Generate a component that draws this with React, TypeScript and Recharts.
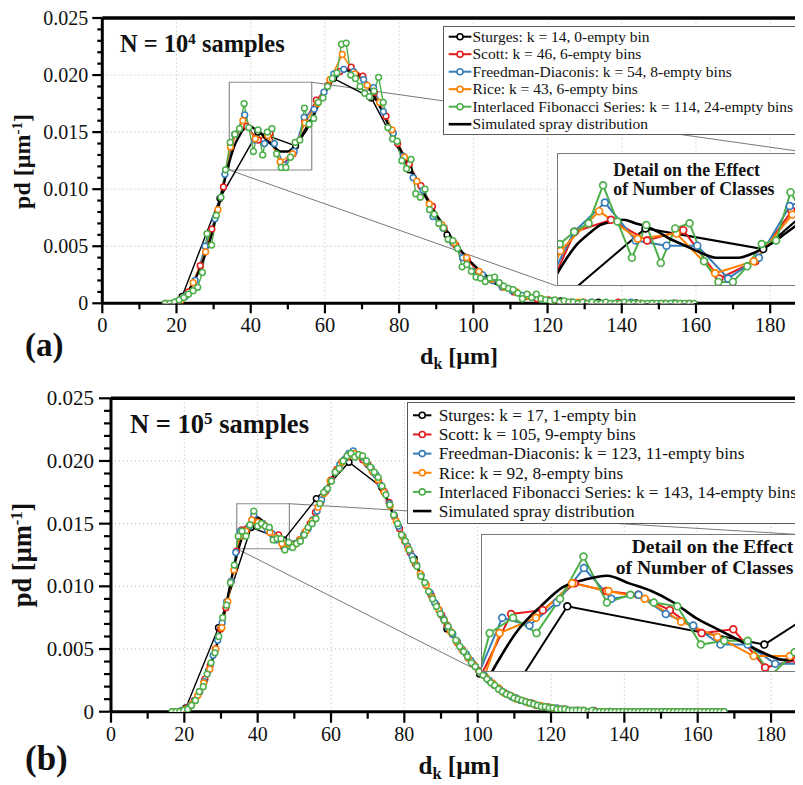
import React from "react";
import { LineChart, Line, XAxis, YAxis, ReferenceLine, ReferenceArea } from "recharts";

const FONT = "'Liberation Serif', 'Times New Roman', serif";
type P = [number, number][];
type Pt = { x: number; y: number };

const SERIES_COLORS = ["#000000", "#e41a1c", "#377eb8", "#ff7f00", "#4daf4a"];
const SIM_COLOR = "#000000";

const X_TICKS = [0, 10, 20, 30, 40, 50, 60, 70, 80, 90, 100, 110, 120, 130, 140, 150, 160, 170, 180];
const Y_TICKS = [0, 0.001, 0.002, 0.003, 0.004, 0.005, 0.006, 0.007, 0.008, 0.009, 0.01, 0.011, 0.012, 0.013, 0.014, 0.015, 0.016, 0.017, 0.018, 0.019, 0.02, 0.021, 0.022, 0.023, 0.024, 0.025];
const X_GRID = [20, 40, 60, 80, 100, 120, 140, 160, 180];
const Y_GRID = [0.005, 0.01, 0.015, 0.02];

const A_LABELS = [
  "Sturges: k = 14, 0-empty bin",
  "Scott: k = 46, 6-empty bins",
  "Freedman-Diaconis: k = 54, 8-empty bins",
  "Rice: k = 43, 6-empty bins",
  "Interlaced Fibonacci Series: k = 114, 24-empty bins",
  "Simulated spray distribution",
];
const B_LABELS = [
  "Sturges: k = 17, 1-empty bin",
  "Scott: k = 105, 9-empty bins",
  "Freedman-Diaconis: k = 123, 11-empty bins",
  "Rice: k = 92, 8-empty bins",
  "Interlaced Fibonacci Series: k = 143, 14-empty bins",
  "Simulated spray distribution",
];

// Simulated spray distribution (same in both panels)
const SIM: P = [[16,0],[18,0],[20,0.0001],[21,0.0003],[22,0.0006],[23,0.001],[24,0.0015],[25,0.0021],[26,0.0028],[27,0.0036],[28,0.0045],[29,0.0055],
[30,0.0067],[31,0.008],[32,0.0094],[33,0.0108],[34,0.0121],[35,0.0132],[36,0.0141],[37,0.0147],[38,0.0152],[39,0.0154],
[40,0.0155],[41,0.0153],[42,0.0151],[43,0.0148],[44,0.0144],[45,0.0141],[46,0.0138],[47,0.0135],[48,0.0133],[49,0.0133],
[50,0.0133],[51,0.0135],[52,0.0138],[53,0.0142],[54,0.0147],[55,0.0152],[56,0.0158],[57,0.0165],[58,0.0172],[59,0.0179],
[60,0.0185],[61,0.019],[62,0.0195],[63,0.0198],[64,0.0201],[65,0.0203],[66,0.0204],[67,0.0204],[68,0.0203],[69,0.02],
[70,0.0197],[71,0.0193],[72,0.0188],[73,0.0183],[74,0.0177],[75,0.0171],[76,0.0164],[77,0.0157],[78,0.015],[79,0.0143],
[80,0.0137],[82,0.0124],[84,0.0112],[86,0.01],[88,0.0089],[90,0.0078],[92,0.0068],[94,0.0058],[96,0.0049],[98,0.0041],
[100,0.0034],[102,0.0028],[104,0.0023],[106,0.0018],[108,0.0014],[110,0.0011],[113,0.0008],[116,0.0005],[120,0.0003],
[125,0.0001],[130,0.00004],[135,0.00001],[140,0]];

// ---------- Panel (a): N = 10^4 ----------
const A_STURGES: P = [[21.5,0.0006],[31.7,0.0092],[41.9,0.015],[52.1,0.0138],[62.3,0.0197],[72.5,0.018],[82.7,0.0117],[92.9,0.006],[103.1,0.0021],[113.3,0.0006],[123.5,0.0002],[133.7,0.0001],[143.9,0.00003],[154.1,0.00001]];

const A_SCOTT: P = [[17,0],[20.13,0.0001],[23.26,0.001],[26.39,0.0033],[29.52,0.0065],[32.65,0.0102],[35.78,0.0148],[38.91,0.0155],[42.04,0.0143],[45.17,0.0149],[48.3,0.0121],[51.43,0.0131],[54.56,0.016],[57.69,0.0178],[60.82,0.0191],[63.95,0.0203],[67.08,0.0207],[70.21,0.0199],[73.34,0.0185],[76.47,0.0164],[79.6,0.014],[82.73,0.0122],[85.86,0.0103],[88.99,0.0085],[92.12,0.0066],[95.25,0.0051],[98.38,0.0038],[101.51,0.0027],[104.64,0.0021],[107.77,0.0015],[110.9,0.001],[114.03,0.0006],[117.16,0.0004],[120.29,0.0003],[123.42,0.0001],[126.55,0.0001],[129.68,0.0001],[132.81,0],[135.94,0],[139.07,0.0001],[142.2,0],[145.33,0],[148.46,0],[151.59,0],[154.72,0],[157.85,0]];

const A_FD: P = [[17.02,0],[19.69,0.0001],[22.36,0.0006],[25.03,0.002],[27.7,0.005],[30.37,0.0074],[33.04,0.0113],[35.71,0.0148],[38.38,0.0165],[41.05,0.0143],[43.72,0.014],[46.39,0.014],[49.06,0.0121],[51.73,0.0133],[54.4,0.0163],[57.07,0.017],[59.74,0.0185],[62.41,0.0201],[65.08,0.0205],[67.75,0.0203],[70.42,0.0196],[73.09,0.0189],[75.76,0.0168],[78.43,0.0149],[81.1,0.0129],[83.77,0.011],[86.44,0.0099],[89.11,0.0076],[91.78,0.0066],[94.45,0.0053],[97.12,0.004],[99.79,0.0028],[102.46,0.0025],[105.13,0.002],[107.8,0.0014],[110.47,0.0011],[113.14,0.0007],[115.81,0.0005],[118.48,0.0003],[121.15,0.0002],[123.82,0.0001],[126.49,0.0001],[129.16,0],[131.83,0.0001],[134.5,0],[137.17,0],[139.84,0],[142.51,0.0001],[145.18,0],[147.85,0],[150.52,0],[153.19,0],[155.86,0],[158.53,0]];

const A_RICE: P = [[17.78,0],[21.13,0.0002],[24.48,0.0018],[27.83,0.0045],[31.18,0.0082],[34.53,0.0137],[37.88,0.016],[41.23,0.0144],[44.58,0.0147],[47.93,0.0124],[51.28,0.0131],[54.63,0.0158],[57.98,0.0175],[61.33,0.0196],[64.68,0.0218],[68.03,0.0201],[71.38,0.0191],[74.73,0.0176],[78.08,0.0152],[81.43,0.0128],[84.78,0.0107],[88.13,0.0087],[91.48,0.0069],[94.83,0.0053],[98.18,0.004],[101.53,0.0028],[104.88,0.0021],[108.23,0.0014],[111.58,0.001],[114.93,0.0006],[118.28,0.0004],[121.63,0.0002],[124.98,0.0001],[128.33,0.0001],[131.68,0],[135.03,0],[138.38,0],[141.73,0],[145.08,0],[148.43,0],[151.78,0],[155.13,0],[158.48,0]];

const A_IFS: P = [[16.97,0],[18.22,0],[19.47,0.0001],[20.72,0.0003],[21.97,0.0005],[23.22,0.0008],[24.47,0.0011],[25.72,0.0014],[26.97,0.0027],[28.22,0.0061],
[29.47,0.0051],[30.72,0.0077],[31.97,0.0093],[33.22,0.0117],[34.47,0.0141],[35.72,0.0148],[36.97,0.0153],[38.22,0.0175],[39.47,0.0154],[40.72,0.0133],
[41.97,0.0152],[43.22,0.013],[44.47,0.015],[45.72,0.0153],[46.97,0.0131],[48.22,0.0119],[49.47,0.0119],[50.72,0.0128],[51.97,0.0141],[53.22,0.0143],
[54.47,0.0171],[55.72,0.0157],[56.97,0.0162],[58.22,0.0176],[59.47,0.018],[60.72,0.019],[61.97,0.0197],[63.22,0.0202],[64.47,0.0227],[65.72,0.0228],
[66.97,0.02],[68.22,0.0197],[69.47,0.019],[70.72,0.0184],[71.97,0.0181],[73.22,0.0186],[74.47,0.0198],[75.72,0.0176],[76.97,0.0154],[78.22,0.0144],
[79.47,0.0142],[80.72,0.0125],[81.97,0.0118],[83.22,0.0126],[84.47,0.0096],[85.72,0.0093],[86.97,0.01],[88.22,0.0082],[89.47,0.0078],[90.72,0.007],
[91.97,0.0066],[93.22,0.0056],[94.47,0.0055],[95.72,0.0048],[96.97,0.0032],[98.22,0.0034],[99.47,0.0028],[100.72,0.0023],[101.97,0.0022],[103.22,0.0019],
[104.47,0.0022],[105.72,0.0023],[106.97,0.0018],[108.22,0.0015],[109.47,0.0013],[110.72,0.0012],[111.97,0.0009],[113.22,0.0004],[114.47,0.0008],[115.72,0.0005],
[116.97,0.0008],[118.22,0.0004],[119.47,0.0003],[120.72,0.0002],[121.97,0.0003],[123.22,0.0001],[124.47,0.0002],[125.72,0.0001],[126.97,0.0001],[128.22,0],
[129.47,0.0001],[130.72,0],[131.97,0.0001],[133.22,0],[134.47,0],[135.72,0.0001],[136.97,0],[138.22,0],[139.47,0],[140.72,0.0001],
[141.97,0],[143.22,0],[144.47,0],[145.72,0],[146.97,0],[148.22,0],[149.47,0],[150.72,0],[151.97,0],[153.22,0],
[154.47,0],[155.72,0],[156.97,0],[158.22,0],[159.47,0]];

// ---------- Panel (b): N = 10^5 ----------
const B_STURGES: P = [[20.4,0.0003],[29.3,0.0067],[38.2,0.0147],[47.1,0.0137],[56,0.017],[64.9,0.0199],[73.8,0.0179],[82.7,0.0122],[91.6,0.0066],[100.5,0.003],[109.4,0.0012],[118.3,0.0004],[127.2,0.0001],[136.1,0.00003],[145,0.00001],[153.9,0],[162.8,0]];

const B_SCOTT: P = [[17,0],[18.44,0],[19.87,0.0001],[21.31,0.0004],[22.74,0.0009],[24.18,0.0016],[25.61,0.0026],[27.05,0.0037],[28.48,0.005],[29.92,0.0066],
[31.35,0.0083],[32.79,0.0104],[34.22,0.0128],[35.66,0.0145],[37.09,0.0146],[38.53,0.0153],[39.96,0.0151],[41.4,0.015],[42.83,0.0146],[44.27,0.014],
[45.7,0.0141],[47.14,0.0131],[48.57,0.0133],[50.01,0.0134],[51.44,0.0137],[52.88,0.0143],[54.31,0.015],[55.75,0.0159],[57.18,0.0167],[58.62,0.0176],
[60.05,0.0185],[61.49,0.0193],[62.92,0.0199],[64.36,0.0203],[65.79,0.0206],[67.23,0.0205],[68.66,0.0201],[70.1,0.0197],[71.53,0.0191],[72.97,0.0184],
[74.4,0.0176],[75.84,0.0167],[77.27,0.0156],[78.71,0.0146],[80.14,0.0136],[81.58,0.0127],[83.01,0.0118],[84.45,0.0109],[85.88,0.0101],[87.32,0.0093],
[88.75,0.0085],[90.19,0.0077],[91.62,0.0069],[93.06,0.0062],[94.49,0.0055],[95.93,0.0049],[97.36,0.0043],[98.8,0.0038],[100.23,0.0033],[101.67,0.0029],
[103.1,0.0025],[104.54,0.0021],[105.97,0.0018],[107.41,0.0015],[108.84,0.0013],[110.28,0.0011],[111.71,0.0009],[113.15,0.0008],[114.58,0.0007],[116.02,0.0005],
[117.45,0.0004],[118.89,0.0004],[120.32,0.0003],[121.76,0.0002],[123.19,0.0002],[124.63,0.0001],[126.06,0.0001],[127.5,0.0001],[128.93,0.0001],[130.37,0],
[131.8,0.0001],[133.24,0],[134.67,0],[136.11,0],[137.54,0],[138.98,0],[140.41,0],[141.85,0],[143.28,0],[144.72,0],
[146.15,0],[147.59,0],[149.02,0],[150.46,0],[151.89,0],[153.33,0],[154.76,0],[156.2,0],[157.63,0],[159.07,0],
[160.5,0],[161.94,0],[163.37,0],[164.81,0],[166.24,0]];

const B_FD: P = [[16.76,0],[17.99,0],[19.23,0.0001],[20.46,0.0002],[21.69,0.0005],[22.93,0.0009],[24.16,0.0016],[25.39,0.0024],[26.62,0.0033],[27.86,0.0045],
[29.09,0.0057],[30.32,0.0071],[31.56,0.0088],[32.79,0.0104],[34.02,0.0127],[35.26,0.0144],[36.49,0.0142],[37.72,0.0148],[38.95,0.0157],[40.19,0.0149],
[41.42,0.015],[42.65,0.0145],[43.89,0.0142],[45.12,0.0137],[46.35,0.0137],[47.59,0.0132],[48.82,0.0132],[50.05,0.0134],[51.28,0.0136],[52.52,0.0141],
[53.75,0.0146],[54.98,0.0153],[56.22,0.016],[57.45,0.0169],[58.68,0.0177],[59.92,0.0184],[61.15,0.0191],[62.38,0.0197],[63.61,0.0201],[64.85,0.0206],
[66.08,0.0208],[67.31,0.0204],[68.55,0.0203],[69.78,0.0198],[71.01,0.0194],[72.25,0.0189],[73.48,0.0181],[74.71,0.0175],[75.94,0.0166],[77.18,0.0157],
[78.41,0.0148],[79.64,0.014],[80.88,0.0132],[82.11,0.0124],[83.34,0.0117],[84.58,0.0109],[85.81,0.0102],[87.04,0.0095],[88.27,0.0087],[89.51,0.0081],
[90.74,0.0074],[91.97,0.0067],[93.21,0.0062],[94.44,0.0056],[95.67,0.005],[96.91,0.0046],[98.14,0.0041],[99.37,0.0036],[100.6,0.0032],[101.84,0.0029],
[103.07,0.0025],[104.3,0.0022],[105.54,0.0019],[106.77,0.0016],[108,0.0014],[109.24,0.0012],[110.47,0.0011],[111.7,0.0009],[112.93,0.0008],[114.17,0.0007],
[115.4,0.0006],[116.63,0.0005],[117.87,0.0004],[119.1,0.0004],[120.33,0.0003],[121.57,0.0003],[122.8,0.0002],[124.03,0.0002],[125.26,0.0001],[126.5,0.0001],
[127.73,0.0001],[128.96,0.0001],[130.2,0],[131.43,0.0001],[132.66,0],[133.9,0],[135.13,0],[136.36,0],[137.59,0],[138.83,0],
[140.06,0],[141.29,0],[142.53,0],[143.76,0],[144.99,0],[146.23,0],[147.46,0],[148.69,0],[149.92,0],[151.16,0],
[152.39,0],[153.62,0],[154.86,0],[156.09,0],[157.32,0],[158.56,0],[159.79,0],[161.02,0],[162.25,0],[163.49,0],
[164.72,0],[165.95,0],[167.19,0]];

const B_RICE: P = [[17.1,0],[18.74,0],[20.38,0.0002],[22.02,0.0006],[23.66,0.0013],[25.3,0.0023],[26.94,0.0034],[28.58,0.005],[30.22,0.0067],[31.86,0.0088],
[33.5,0.0113],[35.14,0.014],[36.78,0.0144],[38.42,0.0153],[40.06,0.0151],[41.7,0.0149],[43.34,0.0143],[44.98,0.0139],[46.62,0.0134],[48.26,0.0134],
[49.9,0.0133],[51.54,0.0137],[53.18,0.0144],[54.82,0.0152],[56.46,0.0163],[58.1,0.0174],[59.74,0.0184],[61.38,0.0192],[63.02,0.0199],[64.66,0.0204],
[66.3,0.0206],[67.94,0.0204],[69.58,0.0199],[71.22,0.0192],[72.86,0.0185],[74.5,0.0175],[76.14,0.0164],[77.78,0.0152],[79.42,0.014],[81.06,0.013],
[82.7,0.012],[84.34,0.011],[85.98,0.0101],[87.62,0.0091],[89.26,0.0082],[90.9,0.0073],[92.54,0.0064],[94.18,0.0056],[95.82,0.0049],[97.46,0.0043],
[99.1,0.0037],[100.74,0.0032],[102.38,0.0027],[104.02,0.0023],[105.66,0.0019],[107.3,0.0015],[108.94,0.0013],[110.58,0.001],[112.22,0.0009],[113.86,0.0007],
[115.5,0.0006],[117.14,0.0005],[118.78,0.0004],[120.42,0.0003],[122.06,0.0002],[123.7,0.0002],[125.34,0.0001],[126.98,0.0001],[128.62,0.0001],[130.26,0],
[131.9,0],[133.54,0],[135.18,0],[136.82,0],[138.46,0],[140.1,0],[141.74,0],[143.38,0],[145.02,0],[146.66,0],
[148.3,0],[149.94,0],[151.58,0],[153.22,0],[154.86,0],[156.5,0],[158.14,0],[159.78,0],[161.42,0],[163.06,0],
[164.7,0],[166.34,0]];

const B_IFS: P = [[16.67,0],[17.73,0],[18.79,0],[19.85,0.0001],[20.91,0.0002],[21.97,0.0005],[23.03,0.0009],[24.09,0.0016],[25.15,0.002],[26.21,0.003],
[27.27,0.0039],[28.33,0.0047],[29.39,0.006],[30.45,0.0075],[31.51,0.0085],[32.57,0.0103],[33.63,0.0117],[34.69,0.014],[35.75,0.0144],[36.81,0.014],
[37.87,0.0149],[38.93,0.016],[39.99,0.0148],[41.05,0.015],[42.11,0.0148],[43.17,0.0147],[44.23,0.0137],[45.29,0.0138],[46.35,0.0138],[47.41,0.0129],
[48.47,0.0135],[49.53,0.0131],[50.59,0.0134],[51.65,0.0136],[52.71,0.0141],[53.77,0.0147],[54.83,0.015],[55.89,0.0154],[56.95,0.0166],[58.01,0.0175],
[59.07,0.0178],[60.13,0.0184],[61.19,0.0191],[62.25,0.0194],[63.31,0.02],[64.37,0.0204],[65.43,0.0206],[66.49,0.0203],[67.55,0.0205],[68.61,0.0204],
[69.67,0.02],[70.73,0.0195],[71.79,0.0191],[72.85,0.0187],[73.91,0.018],[74.97,0.0173],[76.03,0.0165],[77.09,0.0157],[78.15,0.015],[79.21,0.0141],
[80.27,0.0136],[81.33,0.0129],[82.39,0.0121],[83.45,0.0116],[84.51,0.0108],[85.57,0.0103],[86.63,0.0096],[87.69,0.009],[88.75,0.0084],[89.81,0.0078],
[90.87,0.0073],[91.93,0.0068],[92.99,0.0063],[94.05,0.0057],[95.11,0.0052],[96.17,0.0048],[97.23,0.0044],[98.29,0.0039],[99.35,0.0036],[100.41,0.0032],
[101.47,0.0029],[102.53,0.0026],[103.59,0.0023],[104.65,0.0021],[105.71,0.0018],[106.77,0.0016],[107.83,0.0014],[108.89,0.0013],[109.95,0.0011],[111.01,0.001],
[112.07,0.0009],[113.13,0.0008],[114.19,0.0007],[115.25,0.0006],[116.31,0.0005],[117.37,0.0004],[118.43,0.0004],[119.49,0.0003],[120.55,0.0003],[121.61,0.0002],
[122.67,0.0002],[123.73,0.0002],[124.79,0.0001],[125.85,0.0001],[126.91,0.0001],[127.97,0.0001],[129.03,0.0001],[130.09,0],[131.15,0.0001],[132.21,0],
[133.27,0],[134.33,0],[135.39,0],[136.45,0],[137.51,0],[138.57,0],[139.63,0],[140.69,0],[141.75,0],[142.81,0],
[143.87,0],[144.93,0],[145.99,0],[147.05,0],[148.11,0],[149.17,0],[150.23,0],[151.29,0],[152.35,0],[153.41,0],
[154.47,0],[155.53,0],[156.59,0],[157.65,0],[158.71,0],[159.77,0],[160.83,0],[161.89,0],[162.95,0],[164.01,0],
[165.07,0],[166.13,0],[167.19,0]];

const toData = (p: P): Pt[] => p.map(([x, y]) => ({ x, y }));

interface Geo {
  top: number;
  width: number;
  height: number;
  margin: { top: number; right: number; bottom: number; left: number };
  yFont: number; xFont: number;
  yMajor: number; yMinor: number; xMajor: number; xMinor: number;
  yGap: number; xBase: number;
}

function MainChart(props: {
  g: Geo;
  series: P[];
  box: { x1: number; x2: number; y1: number; y2: number };
  links: { x: number; y: number }[][];
}) {
  const { g, series, box, links } = props;
  const yTick = (t: any) => {
    const v = t.payload.value;
    const major = Math.abs(v * 200 - Math.round(v * 200)) < 1e-6;
    return (
      <g>
        <line x1={t.x} y1={t.y} x2={t.x - (major ? g.yMajor : g.yMinor)} y2={t.y} stroke="#000" strokeWidth={2.2} />
        {major && (
          <text x={t.x - g.yGap} y={t.y + g.yFont * 0.33} textAnchor="end" fontSize={g.yFont} fontFamily={FONT} fill="#111">
            {v === 0 ? "0" : v.toFixed(3)}
          </text>
        )}
      </g>
    );
  };
  const xTick = (t: any) => {
    const v = t.payload.value;
    const major = v % 20 === 0;
    return (
      <g>
        <line x1={t.x} y1={t.y} x2={t.x} y2={t.y + (major ? g.xMajor : g.xMinor)} stroke="#000" strokeWidth={2.2} />
        {major && (
          <text x={t.x} y={t.y + g.xBase} textAnchor="middle" fontSize={g.xFont} fontFamily={FONT} fill="#111">
            {String(v)}
          </text>
        )}
      </g>
    );
  };
  return (
    <div style={{ position: "absolute", left: 0, top: g.top }}>
      <LineChart width={g.width} height={g.height} margin={g.margin}>
        <XAxis type="number" dataKey="x" domain={[0, 190]} ticks={X_TICKS} interval={0} allowDataOverflow
          tickSize={0} tickMargin={0} tickLine={false} height={40}
          axisLine={{ stroke: "#000", strokeWidth: 3 }} tick={xTick} />
        <YAxis type="number" dataKey="y" domain={[0, 0.025]} ticks={Y_TICKS} interval={0} allowDataOverflow
          tickSize={0} tickMargin={0} tickLine={false} width={60}
          axisLine={{ stroke: "#000", strokeWidth: 3 }} tick={yTick} />
        {X_GRID.map((v) => (
          <ReferenceLine key={"gx" + v} x={v} stroke="#b8b8b8" strokeWidth={1} strokeDasharray="1 3" />
        ))}
        {Y_GRID.map((v) => (
          <ReferenceLine key={"gy" + v} y={v} stroke="#b8b8b8" strokeWidth={1} strokeDasharray="1 3" />
        ))}
        <ReferenceLine y={0.025} stroke="#000" strokeWidth={3.5} />
        <ReferenceArea x1={box.x1} x2={box.x2} y1={box.y1} y2={box.y2} fill="none" fillOpacity={0}
          stroke="#8c8c8c" strokeWidth={1.2} ifOverflow="visible" />
        {links.map((seg, i) => (
          <ReferenceLine key={"lk" + i} segment={seg} stroke="#6a6a6a" strokeWidth={0.9} ifOverflow="visible" />
        ))}
        {series.map((s, i) => (
          <Line key={"s" + i} data={toData(s)} dataKey="y" type="linear" stroke={SERIES_COLORS[i]}
            strokeWidth={1.4} isAnimationActive={false}
            dot={{ r: 2.9, fill: "#fff", stroke: SERIES_COLORS[i], strokeWidth: 1.5 }} activeDot={false} />
        ))}
        <Line data={toData(SIM)} dataKey="y" type="monotone" stroke={SIM_COLOR} strokeWidth={2.3}
          dot={false} activeDot={false} isAnimationActive={false} />
      </LineChart>
    </div>
  );
}

function Inset(props: {
  left: number; top: number; width: number; height: number;
  xd: [number, number]; yd: [number, number];
  series: P[]; r: number;
}) {
  const p = props;
  return (
    <div style={{ position: "absolute", left: p.left, top: p.top, width: p.width, height: p.height, background: "#fff" }}>
      <LineChart width={p.width} height={p.height} margin={{ top: 0, right: 0, bottom: 0, left: 0 }}>
        <XAxis type="number" dataKey="x" domain={p.xd} hide allowDataOverflow />
        <YAxis type="number" dataKey="y" domain={p.yd} hide allowDataOverflow />
        {p.series.map((s, i) => (
          <Line key={"i" + i} data={toData(s)} dataKey="y" type="linear" stroke={SERIES_COLORS[i]}
            strokeWidth={2} isAnimationActive={false}
            dot={{ r: p.r, fill: "#fff", stroke: SERIES_COLORS[i], strokeWidth: 1.7 }} activeDot={false} />
        ))}
        <Line data={toData(SIM)} dataKey="y" type="monotone" stroke={SIM_COLOR} strokeWidth={2.6}
          dot={false} activeDot={false} isAnimationActive={false} />
      </LineChart>
      <div style={{ position: "absolute", left: 0, top: 0, right: 0, bottom: 0, border: "1.3px solid #7a7a7a", pointerEvents: "none" }} />
    </div>
  );
}

function LegendBox(props: {
  left: number; top: number; width: number; height: number;
  labels: string[]; rowTop: number; rowGap: number; iconX0: number; iconX1: number; textX: number; fs: number;
}) {
  const p = props;
  const colors = [...SERIES_COLORS, SIM_COLOR];
  return (
    <svg style={{ position: "absolute", left: p.left, top: p.top }} width={p.width} height={p.height}>
      <rect x={0.5} y={0.5} width={p.width - 1} height={p.height - 1} fill="#fff" stroke="#5a5a5a" strokeWidth={1} />
      {p.labels.map((lab, i) => {
        const cy = p.rowTop + i * p.rowGap;
        const cx = (p.iconX0 + p.iconX1) / 2;
        return (
          <g key={lab}>
            <line x1={p.iconX0} y1={cy} x2={p.iconX1} y2={cy} stroke={colors[i]} strokeWidth={i === 5 ? 2.6 : 2} />
            {i < 5 && <circle cx={cx} cy={cy} r={3} fill="#fff" stroke={colors[i]} strokeWidth={1.6} />}
            <text x={p.textX} y={cy + p.fs * 0.34} fontSize={p.fs} fontFamily={FONT} fill="#111">{lab}</text>
          </g>
        );
      })}
    </svg>
  );
}

const GEO_A: Geo = {
  top: 0, width: 820, height: 340,
  margin: { top: 10, right: 20.7, bottom: 4.7, left: 34.3 },
  yFont: 20, xFont: 20.5, yMajor: 10, yMinor: 5, xMajor: 10, xMinor: 6, yGap: 14, xBase: 28.5,
};
const GEO_B: Geo = {
  top: 368, width: 820, height: 382,
  margin: { top: 22.3, right: 20.3, bottom: 6.3, left: 43 },
  yFont: 21, xFont: 20, yMajor: 12, yMinor: 7, xMajor: 11, xMinor: 7, yGap: 17, xBase: 29,
};

export default function App() {
  const seriesA = [A_STURGES, A_SCOTT, A_FD, A_RICE, A_IFS];
  const seriesB = [B_STURGES, B_SCOTT, B_FD, B_RICE, B_IFS];
  const bold = { fontFamily: FONT, fontWeight: 700 as const, fill: "#111" };
  return (
    <div style={{ position: "relative", width: 795, height: 777, overflow: "hidden", fontFamily: FONT, background: "#fff" }}>
      <MainChart g={GEO_A} series={seriesA}
        box={{ x1: 34.23, x2: 56.44, y1: 0.01168, y2: 0.01937 }}
        links={[
          [{ x: 56.44, y: 0.01937 }, { x: 191.56, y: 0.013146 }],
          [{ x: 34.23, y: 0.01168 }, { x: 122.48, y: 0.00152 }],
        ]} />
      <MainChart g={GEO_B} series={seriesB}
        box={{ x1: 34.3, x2: 48.65, y1: 0.013, y2: 0.01659 }}
        links={[
          [{ x: 48.65, y: 0.01659 }, { x: 187.43, y: 0.014137 }],
          [{ x: 34.3, y: 0.013 }, { x: 100.82, y: 0.003163 }],
        ]} />
      <LegendBox left={435.3} top={18} width={380} height={109} labels={A_LABELS}
        rowTop={10.7} rowGap={17.5} iconX0={5.7} iconX1={28.4} textX={29.4} fs={15.5} />
      <LegendBox left={399.3} top={393.7} width={393} height={122} labels={B_LABELS}
        rowTop={13.3} rowGap={19.15} iconX0={6} iconX1={24.4} textX={31.7} fs={17.3} />
      <Inset left={548.7} top={145.3} width={256.3} height={132.7} xd={[34.23, 56.44]} yd={[0.01168, 0.01937]} series={seriesA} r={3.4} />
      <Inset left={472.7} top={526.3} width={317.6} height={137.4} xd={[34.3, 48.65]} yd={[0.013, 0.01659]} series={seriesB} r={3.4} />
      <svg style={{ position: "absolute", left: 0, top: 0, pointerEvents: "none" }} width={795} height={777}>
        <text x={112} y={43.7} fontSize={24.4} {...bold}>
          N = 10<tspan dy={-8} fontSize={15.5}>4</tspan><tspan dy={8}> samples</tspan>
        </text>
        <text x={122} y={424.7} fontSize={26.5} {...bold}>
          N = 10<tspan dy={-9} fontSize={17}>5</tspan><tspan dy={9}> samples</tspan>
        </text>
        <text transform="translate(21.7,153.5) rotate(-90)" textAnchor="middle" fontSize={24} {...bold}>
          pd [μm<tspan dy={-8} fontSize={15}>-1</tspan><tspan dy={8}>]</tspan>
        </text>
        <text transform="translate(23.2,547) rotate(-90)" textAnchor="middle" fontSize={26.5} {...bold}>
          pd [μm<tspan dy={-9} fontSize={16.5}>-1</tspan><tspan dy={9}>]</tspan>
        </text>
        <text x={451} y={356} textAnchor="middle" fontSize={24} {...bold}>
          d<tspan dy={5} fontSize={16}>k</tspan><tspan dy={-5}> [μm]</tspan>
        </text>
        <text x={451} y={766} textAnchor="middle" fontSize={25} {...bold}>
          d<tspan dy={4.5} fontSize={16.5}>k</tspan><tspan dy={-4.5}> [μm]</tspan>
        </text>
        <text x={17} y={348.4} fontSize={33} {...bold}>(a)</text>
        <text x={17} y={762} fontSize={35} {...bold}>(b)</text>
        <text x={605.3} y={168} fontSize={17.8} {...bold}>Detail on the Effect</text>
        <text x={605.3} y={187} fontSize={17.8} {...bold}>of Number of Classes</text>
        <text x={785.3} y={545.3} textAnchor="end" fontSize={19.6} {...bold}>Detail on the Effect</text>
        <text x={785.3} y={566.3} textAnchor="end" fontSize={19.6} {...bold}>of Number of Classes</text>
      </svg>
    </div>
  );
}
